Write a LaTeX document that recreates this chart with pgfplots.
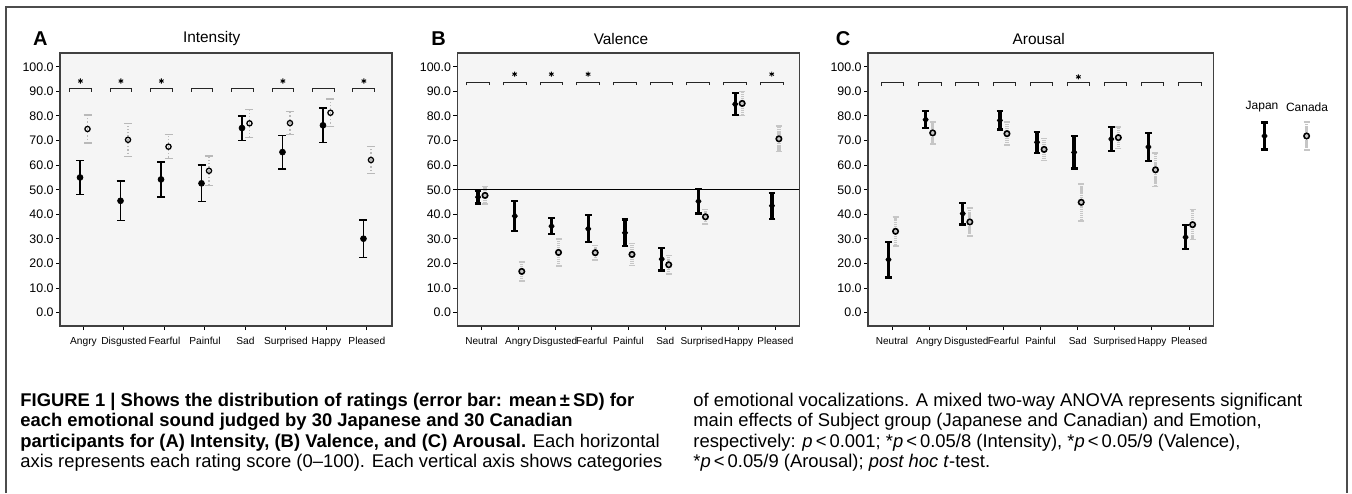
\documentclass[border=0pt]{standalone}
\usepackage{pgfplots}
\pgfplotsset{compat=1.18}
\usepackage{pgfplotstable}
\usepackage{fontspec}
\setmainfont{Liberation Sans}

\pgfplotstableread{
x y e
-0.085 55.0 6.9
0.915 45.5 8.0
1.915 54.2 7.2
2.915 52.6 7.4
3.915 75.1 5.0
4.915 65.3 6.8
5.915 76.2 7.0
6.915 30.1 7.6
}\Ajap
\pgfplotstableread{
x y e
0.1 74.7 5.7
1.1 70.3 6.7
2.1 67.5 4.9
3.1 57.7 6.0
4.1 77.0 5.6
5.1 77.1 4.8
6.1 81.3 5.6
7.1 62.1 5.6
}\Acan
\pgfplotstableread{
x y e
-0.095 47.0 2.6
0.905 39.3 6.0
1.905 35.2 3.2
2.905 34.1 5.5
3.905 32.5 5.4
4.905 21.8 4.6
5.905 45.3 5.0
6.905 84.8 4.4
7.905 43.5 5.3
}\Bjap
\pgfplotstableread{
x y e
0.095 47.7 3.6
1.095 16.8 3.8
2.095 24.5 5.4
3.095 24.4 3.0
4.095 23.7 4.5
5.095 19.5 3.8
6.095 39.0 3.0
7.095 85.1 4.9
8.095 70.7 5.1
}\Bcan
\pgfplotstableread{
x y e
-0.095 21.6 7.3
0.905 78.5 3.4
1.905 40.3 4.4
2.905 78.2 3.7
3.905 69.3 4.3
4.905 65.2 6.6
5.905 70.6 5.0
6.905 67.4 5.7
7.905 30.7 4.9
}\Cjap
\pgfplotstableread{
x y e
0.095 33.1 5.9
1.095 73.1 4.5
2.095 36.9 5.6
3.095 72.8 4.7
4.095 66.4 4.5
5.095 44.9 7.5
6.095 71.2 4.4
7.095 58.1 6.8
8.095 35.8 6.1
}\Ccan

\pgfplotsset{
  panel/.style={
    scale only axis, anchor=south west, height=136.5pt,
    ymin=-5.4, ymax=105.6,
    ytick={0,10,...,100},
    yticklabels={0.0,10.0,20.0,30.0,40.0,50.0,60.0,70.0,80.0,90.0,100.0},
    tick align=outside, tick pos=left, major tick length=2pt,
    axis line style={black!75, line width=0.6pt},
    tick style={black, line width=0.5pt},
    yticklabel style={font=\fontsize{6.2}{6.5}\selectfont, inner sep=1pt},
    xticklabel style={font=\fontsize{5}{6}\selectfont, inner sep=1pt, yshift=-2.5pt},
    axis background/.style={fill=gray!8},
    unbounded coords=jump,
  },
  bracket/.style={black!85, line width=0.45pt},
  star/.style={only marks, mark=asterisk, mark size=1.3pt, black, mark options={line width=0.45pt}},
  jpA/.style={black, only marks, mark=*, mark size=1.45pt,
    error bars/.cd, y dir=both, y explicit,
    error bar style={line width=0.8pt, black},
    error mark options={rotate=90, mark size=2pt, line width=0.8pt, black}},
  caA/.style={black, only marks, mark=o, mark size=1.3pt, mark options={line width=0.65pt},
    error bars/.cd, y dir=both, y explicit,
    error bar style={line width=0.6pt, gray!55, densely dotted},
    error mark options={rotate=90, mark size=2pt, line width=0.6pt, gray!55, solid}},
  jpB/.style={black, only marks, mark=diamond*, mark size=1.7pt,
    error bars/.cd, y dir=both, y explicit,
    error bar style={line width=1.7pt, black},
    error mark options={rotate=90, mark size=1.7pt, line width=1.1pt, black}},
  caB/.style={black, only marks, mark=o, mark size=1.35pt, mark options={line width=0.8pt},
    error bars/.cd, y dir=both, y explicit,
    error bar style={line width=1.6pt, gray!45, dash pattern=on 0.7pt off 0.35pt},
    error mark options={rotate=90, mark size=1.5pt, line width=0.8pt, gray!45, solid}},
}

\begin{document}
\begin{tikzpicture}
\useasboundingbox (0,0) rectangle (676pt,246.5pt);
\draw[black!70, line width=0.8pt] (3pt,0pt) -- (3pt,242.85pt) -- (673.5pt,242.85pt) -- (673.5pt,0pt);

% ---------- Panel A ----------
\begin{axis}[panel, at={(30pt,83.5pt)}, width=166pt,
  xmin=-0.58, xmax=7.62, xtick={0,...,7},
  xticklabel style={font=\fontsize{5.1}{6}\selectfont},
  xticklabels={Angry,Disgusted,Fearful,Painful,Sad,Surprised,Happy,Pleased}]
\addplot[bracket] coordinates {
(-0.345,89.9) (-0.345,91.3) (0.195,91.3) (0.195,89.9) (0,nan)
(0.655,89.9) (0.655,91.3) (1.195,91.3) (1.195,89.9) (1,nan)
(1.655,89.9) (1.655,91.3) (2.195,91.3) (2.195,89.9) (2,nan)
(2.655,89.9) (2.655,91.3) (3.195,91.3) (3.195,89.9) (3,nan)
(3.655,89.9) (3.655,91.3) (4.195,91.3) (4.195,89.9) (4,nan)
(4.655,89.9) (4.655,91.3) (5.195,91.3) (5.195,89.9) (5,nan)
(5.655,89.9) (5.655,91.3) (6.195,91.3) (6.195,89.9) (6,nan)
(6.655,89.9) (6.655,91.3) (7.195,91.3) (7.195,89.9)};
\addplot[star] coordinates {(-0.075,94.2) (0.925,94.2) (1.925,94.2) (4.925,94.2) (6.925,94.2)};
\addplot[caA] table[x=x, y=y, y error=e] {\Acan};
\addplot[jpA] table[x=x, y=y, y error=e] {\Ajap};
\end{axis}

% ---------- Panel B ----------
\begin{axis}[panel, at={(228.65pt,83.5pt)}, width=171pt,
  xmin=-0.66, xmax=8.65, xtick={0,...,8},
  xticklabels={Neutral,Angry,Disgusted,Fearful,Painful,Sad,Surprised,Happy,Pleased}]
\addplot[black, line width=0.6pt] coordinates {(-0.66,50) (8.65,50)};
\addplot[bracket] coordinates {
(-0.41,92.4) (-0.41,93.5) (0.21,93.5) (0.21,92.4) (0,nan)
(0.59,92.4) (0.59,93.5) (1.21,93.5) (1.21,92.4) (1,nan)
(1.59,92.4) (1.59,93.5) (2.21,93.5) (2.21,92.4) (2,nan)
(2.59,92.4) (2.59,93.5) (3.21,93.5) (3.21,92.4) (3,nan)
(3.59,92.4) (3.59,93.5) (4.21,93.5) (4.21,92.4) (4,nan)
(4.59,92.4) (4.59,93.5) (5.21,93.5) (5.21,92.4) (5,nan)
(5.59,92.4) (5.59,93.5) (6.21,93.5) (6.21,92.4) (6,nan)
(6.59,92.4) (6.59,93.5) (7.21,93.5) (7.21,92.4) (7,nan)
(7.59,92.4) (7.59,93.5) (8.21,93.5) (8.21,92.4)};
\addplot[star] coordinates {(0.9,97) (1.9,97) (2.9,97) (7.9,97)};
\addplot[caB] table[x=x, y=y, y error=e] {\Bcan};
\addplot[jpB] table[x=x, y=y, y error=e] {\Bjap};
\end{axis}

% ---------- Panel C ----------
\begin{axis}[panel, at={(434pt,83.5pt)}, width=172.7pt,
  xmin=-0.647, xmax=8.655, xtick={0,...,8},
  xticklabels={Neutral,Angry,Disgusted,Fearful,Painful,Sad,Surprised,Happy,Pleased}]
\addplot[bracket] coordinates {
(-0.28,92.1) (-0.28,93.5) (0.32,93.5) (0.32,92.1) (0,nan)
(0.72,92.1) (0.72,93.5) (1.32,93.5) (1.32,92.1) (1,nan)
(1.72,92.1) (1.72,93.5) (2.32,93.5) (2.32,92.1) (2,nan)
(2.72,92.1) (2.72,93.5) (3.32,93.5) (3.32,92.1) (3,nan)
(3.72,92.1) (3.72,93.5) (4.32,93.5) (4.32,92.1) (4,nan)
(4.72,92.1) (4.72,93.5) (5.32,93.5) (5.32,92.1) (5,nan)
(5.72,92.1) (5.72,93.5) (6.32,93.5) (6.32,92.1) (6,nan)
(6.72,92.1) (6.72,93.5) (7.32,93.5) (7.32,92.1) (7,nan)
(7.72,92.1) (7.72,93.5) (8.32,93.5) (8.32,92.1)};
\addplot[star] coordinates {(5.02,95.9)};
\addplot[caB] table[x=x, y=y, y error=e] {\Ccan};
\addplot[jpB] table[x=x, y=y, y error=e] {\Cjap};
\end{axis}

% ---------- Legend ----------
\begin{axis}[scale only axis, anchor=south west, at={(620pt,166.5pt)},
  width=50pt, height=30pt, xmin=0, xmax=100, ymin=0, ymax=60, hide axis, clip=false]
\addplot[jpB] coordinates {(24.5,24) +- (0,13.5)};
\addplot[caB] coordinates {(66.6,24) +- (0,14)};
\node[font=\fontsize{6}{6.5}\selectfont] at (axis cs:22,53) {Japan};
\node[font=\fontsize{6}{6.5}\selectfont] at (axis cs:67,53) {Canada};
\end{axis}

% ---------- Titles ----------
\node[font=\fontsize{10}{10}\selectfont\bfseries] at (20.2pt,227pt) {A};
\node[font=\fontsize{10}{10}\selectfont\bfseries] at (219.25pt,227pt) {B};
\node[font=\fontsize{10}{10}\selectfont\bfseries] at (421.5pt,227pt) {C};
\node[font=\fontsize{7.7}{8}\selectfont] at (105.85pt,227pt) {Intensity};
\node[font=\fontsize{7.7}{8}\selectfont] at (310.5pt,227pt) {Valence};
\node[font=\fontsize{7.7}{8}\selectfont] at (519.4pt,227pt) {Arousal};

% ---------- Caption ----------
\begin{scope}[every node/.style={anchor=base west, inner sep=0pt, font=\fontsize{9.2}{10.2}\selectfont}]
\node at (10pt,43.5pt) {\bfseries FIGURE 1 | Shows the distribution of ratings (error bar: mean\,±\,SD) for};
\node at (10pt,33.25pt) {\bfseries each emotional sound judged by 30 Japanese and 30 Canadian};
\node at (10pt,23pt) {\textbf{participants for (A) Intensity, (B) Valence, and (C) Arousal.} Each horizontal};
\node at (10pt,12.75pt) {axis represents each rating score (0–100). Each vertical axis shows categories};
\node at (346.5pt,43.5pt) {of emotional vocalizations. A mixed two-way ANOVA represents significant};
\node at (346.5pt,33.25pt) {main effects of Subject group (Japanese and Canadian) and Emotion,};
\node at (346.5pt,23pt) {respectively: \textit{p}\,<\,0.001; *\textit{p}\,<\,0.05/8 (Intensity), *\textit{p}\,<\,0.05/9 (Valence),};
\node at (346.5pt,12.75pt) {*\textit{p}\,<\,0.05/9 (Arousal); \textit{post hoc t}-test.};
\end{scope}
\end{tikzpicture}
\end{document}
